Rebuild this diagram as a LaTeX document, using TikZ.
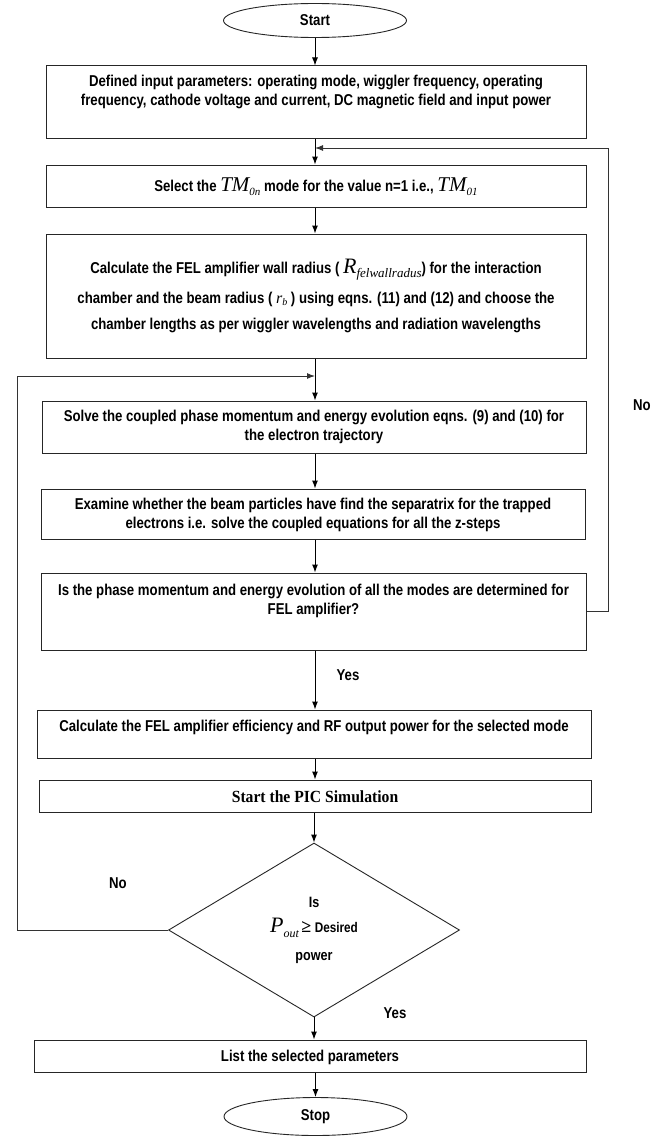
\documentclass[tikz,border=0pt]{standalone}
\usepackage{fontspec}
\setmainfont{Liberation Sans}[FakeStretch=0.84]
\newfontfamily\tnr{Liberation Serif}
\newfontfamily\tnrc{Liberation Serif}[FakeStretch=0.92]
\usetikzlibrary{arrows.meta,shapes.geometric}
\newcommand{\tmi}[2]{{\tnr\mdseries\itshape\fontsize{#1}{#1}\selectfont #2}}
\newcommand{\tsb}[3]{\raisebox{-#1}{\tmi{#2}{#3}}}
\begin{document}
\begin{tikzpicture}[x=1pt,y=-1pt,
  box/.style={draw=black!85, line width=1pt, rectangle, inner sep=0pt},
  oval/.style={draw=black!85, line width=0.9pt, ellipse, inner sep=0pt},
  txt/.style={font=\bfseries\fontsize{15.7}{19}\selectfont, align=center, inner sep=0pt},
  arr/.style={draw=black, line width=1pt, -{Latex[length=8pt,width=6pt]}},
  fb/.style={draw=black!80, line width=1pt, -{Latex[length=8pt,width=6pt]}}]
\useasboundingbox (0,0) rectangle (660,1137);
\fill[white] (0,0) rectangle (660,1137);

% shapes
\node[oval, minimum width=183pt, minimum height=34pt, txt] (start) at (315,20.5) {Start};
\node[box, minimum width=540pt, minimum height=72pt] (b1) at (316,102) {};
\node[box, minimum width=540pt, minimum height=42pt] (b2) at (316,186) {};
\node[box, minimum width=540pt, minimum height=124pt] (b3) at (316,296) {};
\node[box, minimum width=544pt, minimum height=52pt] (b4) at (314,427) {};
\node[box, minimum width=544pt, minimum height=50pt] (b5) at (313,514) {};
\node[box, minimum width=545pt, minimum height=77pt] (b6) at (313.5,611.5) {};
\node[box, minimum width=554pt, minimum height=48pt] (b7) at (314,734) {};
\node[box, minimum width=552pt, minimum height=32pt] (b8) at (315,796) {};
\node[draw=black!85, line width=0.9pt, diamond, minimum width=291pt, minimum height=174pt, inner sep=0pt] (dia) at (314,930) {};
\node[box, minimum width=552pt, minimum height=32pt] (b9) at (310,1056) {};
\node[oval, minimum width=183pt, minimum height=38pt, txt] (stop) at (315.5,1116.5) {Stop};

% texts
\node[txt] (t1) at (316,92) {Defined input parameters: operating mode, wiggler frequency, operating\\frequency, cathode voltage and current, DC magnetic field and input power};
\node[txt] (t2) at (316,187) {Select the \tmi{21}{TM}\tsb{4pt}{11}{0n} mode for the value n=1 i.e., \tmi{21}{TM}\tsb{4pt}{11}{01}};
\node[txt] (t3) at (316,296) {Calculate the FEL amplifier wall radius ( \tmi{22}{R}\tsb{4pt}{13}{felwallradus}) for the interaction\\[11pt]chamber and the beam radius ( \tmi{16}{r}\tsb{2pt}{10}{b} ) using eqns. (11) and (12) and choose the\\[7pt]chamber lengths as per wiggler wavelengths and radiation wavelengths};
\node[txt] (t4) at (314,427) {Solve the coupled phase momentum and energy evolution eqns. (9) and (10) for\\the electron trajectory};
\node[txt] (t5) at (313,515) {Examine whether the beam particles have find the separatrix for the trapped\\electrons i.e. solve the coupled equations for all the z-steps};
\node[txt] (t6) at (313.5,601) {Is the phase momentum and energy evolution of all the modes are determined for\\FEL amplifier?};
\node[txt] (t7) at (314,727) {Calculate the FEL amplifier efficiency and RF output power for the selected mode};
\node[inner sep=0pt, font=\tnrc\bfseries\fontsize{17}{19}\selectfont] (t8) at (315,797) {Start the PIC Simulation};
\node[txt, font=\bfseries\fontsize{15}{18}\selectfont] (t9) at (314,930) {Is\\[7pt]\tmi{22}{P}\tsb{5pt}{12}{out}\,{\tnr\fontsize{18}{18}\selectfont ≥} {\fontsize{14}{18}\selectfont Desired}\\[10pt]power};
\node[txt] (t10) at (310,1057) {List the selected parameters};

% labels
\node[txt] (no1) at (642,405) {No};
\node[txt] (yes1) at (348,675) {Yes};
\node[txt] (no2) at (118,883) {No};
\node[txt] (yes2) at (395,1013) {Yes};

% junctions
\coordinate (j1) at (315,148);
\coordinate (j2) at (315,376);

% connectors
\draw[arr] (start.south) -- (start.south |- b1.north);
\draw[arr] (b1.south -| start.south) -- (start.south |- b2.north);
\draw[arr] (b2.south -| start.south) -- (start.south |- b3.north);
\draw[arr] (b3.south -| start.south) -- (start.south |- b4.north);
\draw[arr] (b4.south -| start.south) -- (start.south |- b5.north);
\draw[arr] (b5.south -| start.south) -- (start.south |- b6.north);
\draw[arr] (b6.south -| start.south) -- (start.south |- b7.north);
\draw[arr] (b7.south -| start.south) -- (start.south |- b8.north);
\draw[arr] (b8.south -| dia.north) -- (dia.north);
\draw[arr] (dia.south) -- (dia.south |- b9.north);
\draw[arr] (b9.south -| stop.north) -- (stop.north);
\draw[fb] (b6.east) -- ++(22,0) |- (j1);
\draw[fb] (dia.west) -- ++(-151,0) |- (j2);
\end{tikzpicture}
\end{document}
